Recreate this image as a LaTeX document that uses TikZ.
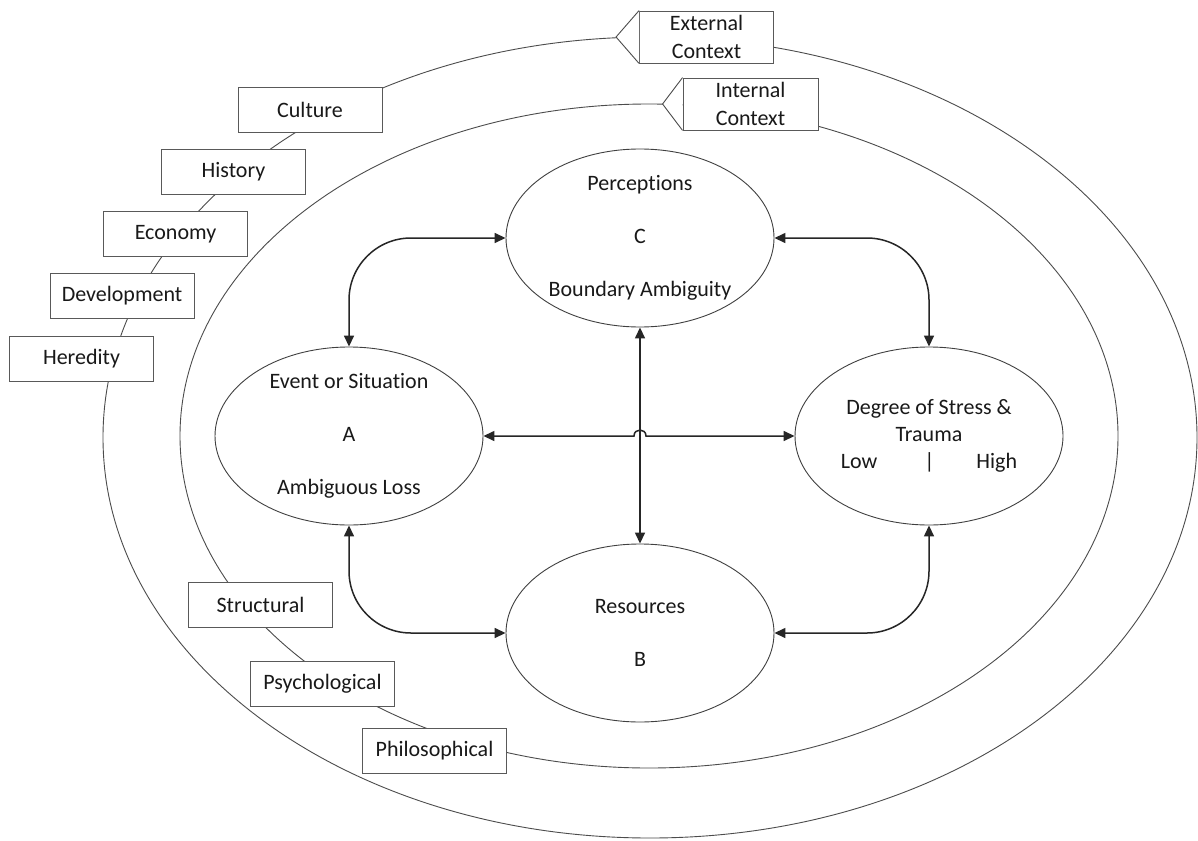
\documentclass[tikz,border=0pt]{standalone}
\usepackage{fontspec}
\setmainfont{Carlito}[Ligatures=NoCommon]
\usetikzlibrary{shapes.geometric,arrows.meta,calc}
\begin{document}
\begin{tikzpicture}[x=1pt,y=-1pt,
  ring/.style={draw=black!70, line width=0.9pt},
  tag/.style={draw=black!65, line width=0.9pt, fill=white, minimum width=144pt,
    minimum height=45pt, inner sep=0pt, font=\fontsize{22}{27}\selectfont, text=black!90},
  ctx/.style={tag, minimum width=134pt, minimum height=52pt, align=center,
    font=\fontsize{22}{28}\selectfont},
  bubble/.style={ellipse, draw=black!75, line width=0.9pt, minimum width=268pt,
    minimum height=178pt, inner sep=0pt},
  btext/.style={font=\fontsize{22}{27}\selectfont, text=black!90, align=center, inner sep=0pt},
  link/.style={draw=black!85, line width=1.5pt, >={Triangle[length=11pt,width=10pt]}, <->},
  bent/.style={link, rounded corners=62pt},
]
\useasboundingbox (0,0) rectangle (1198,840);
\fill[white] (0,0) rectangle (1198,840);

% context rings
\draw[ring] (650,437.5) ellipse [x radius=547pt, y radius=400.5pt];
\draw[ring] (649,436) ellipse [x radius=469pt, y radius=332pt];

% external context factors
\node[tag] (cul) at (310,109.5) {Culture};
\node[tag] (his) at (233.5,171.5) {History};
\node[tag] (eco) at (175.5,234) {Economy};
\node[tag] (dev) at (122,295.5) {Development};
\node[tag] (her) at (81.5,358.5) {Heredity};

% internal context factors
\node[tag] (str) at (260.5,604.5) {Structural};
\node[tag] (psy) at (322.5,684) {Psychological};
\node[tag] (phi) at (434.5,750.5) {Philosophical};

% ring callouts
\node[ctx] (ext) at (706.5,37) {External\\Context};
\coordinate (extTip) at ([xshift=-23pt]ext.west);
\filldraw[ring, fill=white] (ext.north west) -- (extTip) -- (ext.south west);

\node[ctx, minimum width=135pt] (int) at (750.5,104) {Internal\\Context};
\coordinate (intTip) at ([xshift=-20pt]int.west);
\filldraw[ring, fill=white] (int.north west) -- (intTip) -- (int.south west);

% ABC-X components
\node[bubble] (P) at (640,238) {};
\node[btext] (Pt) at (P) {Perceptions\\[26pt]C\\[26pt]Boundary Ambiguity};

\node[bubble] (E) at (349,436) {};
\node[btext] (Et) at (E) {Event or Situation\\[26pt]A\\[26pt]Ambiguous Loss};

\node[bubble] (D) at (929,436) {};
\node[btext] (Dt) at (D) {Degree of Stress \&\\Trauma\\Low\hspace{47pt}|\hspace{42pt}High};

\node[bubble] (R) at (640,633) {};
\node[btext] (Rt) at (R) {Resources\\[26pt]B};

% connectors
\draw[bent] (E.north) |- (P.west);
\draw[bent] (P.east) -| (D.north);
\draw[bent] (E.south) |- (R.west);
\draw[bent] (R.east) -| (D.south);
\draw[link] (P.south) -- (R.north);
\coordinate (hop) at (P.south |- E.east);
\draw[link] (E.east) -- ([xshift=-6pt]hop)
  .. controls ([xshift=-6pt,yshift=8pt]hop) and ([xshift=6pt,yshift=8pt]hop) ..
  ([xshift=6pt]hop) -- (D.west);
\end{tikzpicture}
\end{document}
